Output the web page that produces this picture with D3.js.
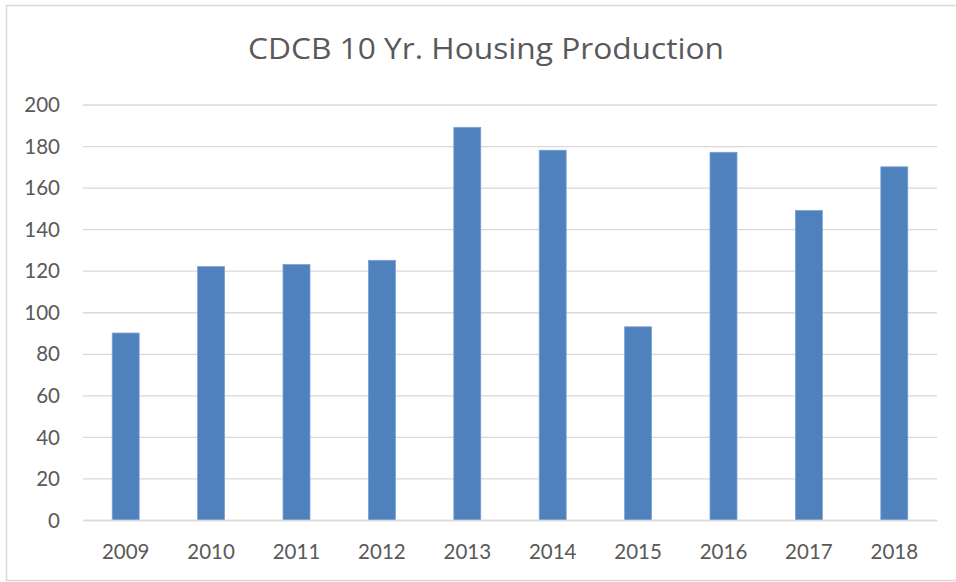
<!DOCTYPE html>
<html><head><meta charset="utf-8">
<script src="https://cdn.jsdelivr.net/npm/d3@7"></script>
<style>html,body{margin:0;padding:0;background:#fff;}svg{display:block;}</style>
</head><body>
<svg id="chart" width="956" height="582"></svg>
<script>
const title = "CDCB 10 Yr. Housing Production";
const years = ["2009","2010","2011","2012","2013","2014","2015","2016","2017","2018"];
const units = [90, 122, 123, 125, 189, 178, 93, 177, 149, 170];
const yTicks = [0, 20, 40, 60, 80, 100, 120, 140, 160, 180, 200];

const svg = d3.select("#chart");
const font = "Lato, 'Open Sans', sans-serif";
const textColor = "#595959";

svg.append("rect").attr("x", 6.5).attr("y", 5.5).attr("width", 960).attr("height", 575)
  .attr("fill", "#fff").attr("stroke", "#d9d9d9").attr("stroke-width", 1.5);

const m = {left: 83, right: 937, top: 104.5, bottom: 520};
const x = d3.scaleBand().domain(years).range([m.left, m.right]).paddingInner(0.684).paddingOuter(0.342);
const y = d3.scaleLinear().domain([0, 200]).range([m.bottom, m.top]);

const t = svg.append("text").attr("x", 486).attr("y", 59).attr("text-anchor", "middle")
  .attr("font-family", "'Open Sans', Lato, sans-serif").attr("font-size", 28.5).attr("fill", textColor).text(title);
const tl = t.node().getComputedTextLength();
if (Math.abs(tl - 476) > 4) t.attr("textLength", 476).attr("lengthAdjust", "spacingAndGlyphs");

const yAxis = d3.axisLeft(y).tickValues(yTicks).tickSize(-(m.right - m.left)).tickPadding(23);
const gy = svg.append("g").attr("transform", `translate(${m.left},0)`).call(yAxis);
gy.select(".domain").remove();
gy.selectAll(".tick line").attr("stroke", "#d9d9d9").attr("stroke-width", 1.3);
gy.selectAll(".tick text").attr("font-family", font).attr("font-size", 20.5).attr("fill", textColor)
  .attr("dy", "0.35em");

svg.append("g").selectAll("rect").data(units).join("rect")
  .attr("x", (d, i) => x(years[i]))
  .attr("y", d => y(d))
  .attr("width", x.bandwidth())
  .attr("height", d => y(0) - y(d))
  .attr("fill", "#4f81bd").attr("stroke", "#7ea3d3").attr("stroke-width", 0.8);

const xAxis = d3.axisBottom(x).tickSize(0).tickPadding(24);
const gx = svg.append("g").attr("transform", `translate(0,${m.bottom})`).call(xAxis);
gx.select(".domain").attr("stroke", "#d9d9d9").attr("stroke-width", 1.3);
gx.selectAll(".tick text").attr("font-family", font).attr("font-size", 20.5).attr("fill", textColor);
</script>
</body></html>
